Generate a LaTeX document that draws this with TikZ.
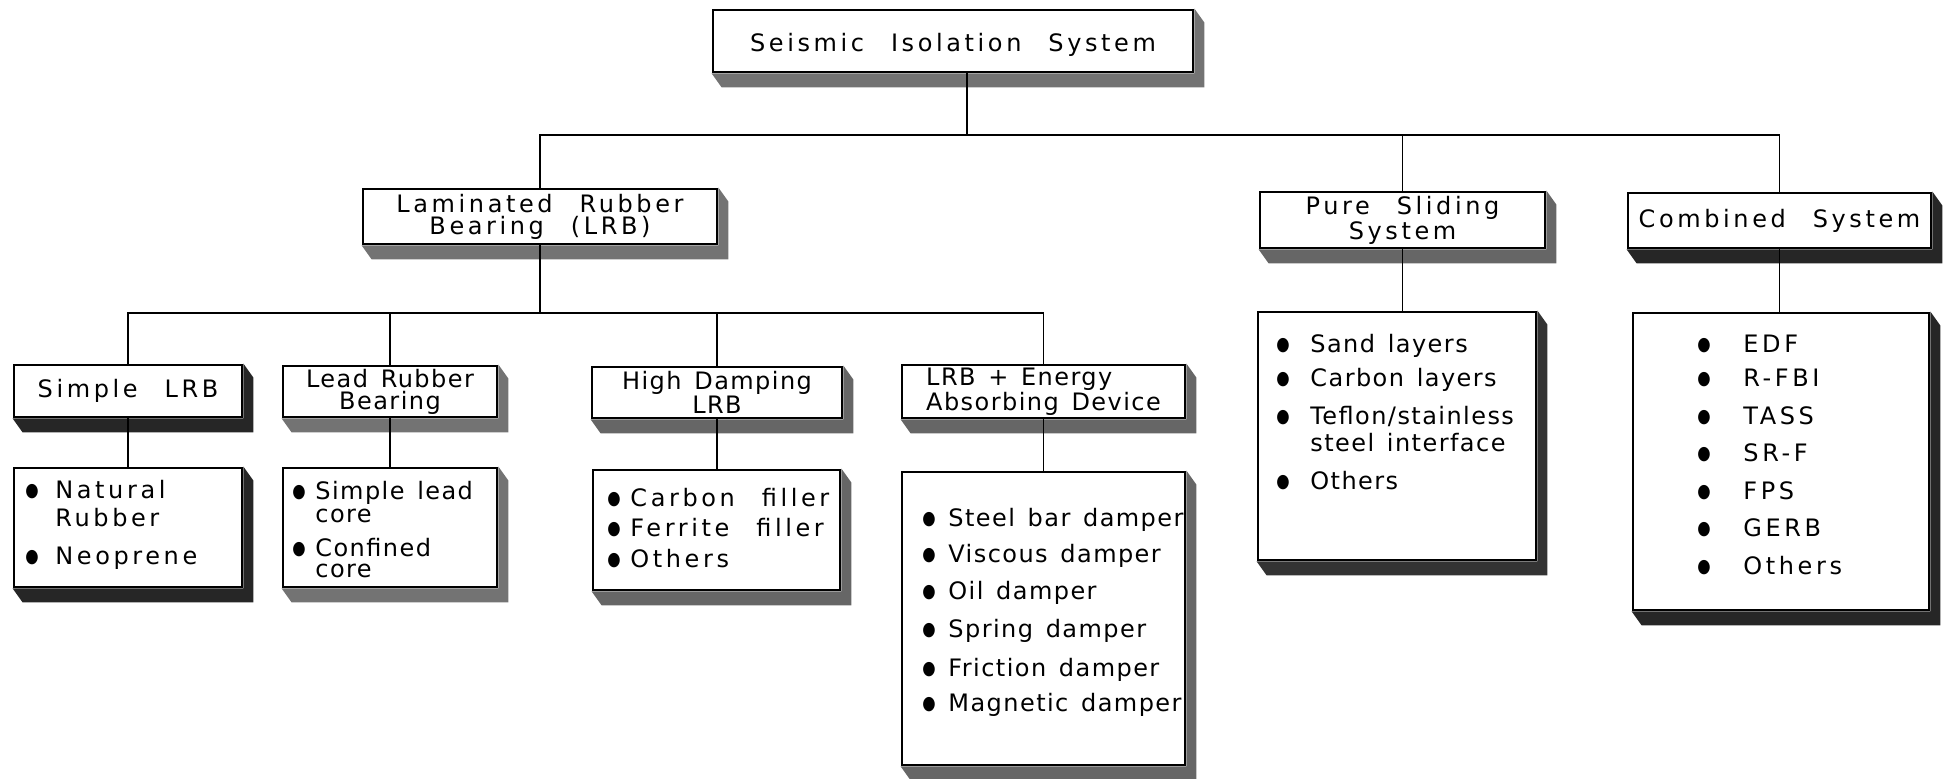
\documentclass[tikz,border=0pt]{standalone}
\usepackage{fontspec}
\usepackage{graphicx}
\setmainfont{DejaVu Sans}[LetterSpace=15, WordSpace=2.4]
\newfontfamily\narrowfont{DejaVu Sans}[LetterSpace=6, WordSpace=1.4]
\pgfdeclarelayer{shadow}
\pgfsetlayers{shadow,main}

\newcommand{\blist}[2]{\begin{tabular}[t]{@{}p{#1}@{}l@{}}#2\end{tabular}}
\newcommand{\dotmark}{\raisebox{1.4pt}{\scalebox{0.85}[1.05]{\fontsize{9}{9}\selectfont ●}}}

\tikzstyle{every node}=[inner sep=0pt, font=\fontsize{12}{11}\selectfont]
\tikzstyle{frame}=[draw=black, line width=1.4pt, fill=white]
\tikzstyle{heading}=[frame, align=center]
\tikzstyle{root}=[frame, text height=21pt, text depth=10pt]
\tikzstyle{tight}=[font=\narrowfont\fontsize{12}{11}\selectfont]
\tikzstyle{items}=[anchor=base west, font=\fontsize{12}{15}\selectfont]
\tikzstyle{tightitems}=[items, font=\narrowfont\fontsize{12}{15}\selectfont]
\tikzstyle{link}=[line width=0.8pt]

\begin{document}
\begin{tikzpicture}[x=0.5pt, y=-0.5pt]
    \useasboundingbox (0,0) rectangle (1944,779);

    \node [root, minimum width=240pt] (root) at (953,41) {Seismic Isolation System};

    \node [heading, minimum width=177pt, minimum height=27.5pt] (lrb) at (540,216.5) {Laminated Rubber\\Bearing (LRB)};
    \node [heading, minimum width=142.5pt, minimum height=28pt] (pss) at (1402.5,220) {Pure Sliding\\System};
    \node [heading, minimum width=151.5pt, minimum height=27.5pt] (comb) at (1779.5,220.5) {Combined System};

    \node [heading, minimum width=114pt, minimum height=26pt] (slrb) at (128,391) {Simple LRB};
    \node [heading, tight, minimum width=107pt, minimum height=25.5pt] (lead) at (390,391.5) {Lead Rubber\\Bearing};
    \node [heading, tight, minimum width=125pt, minimum height=25.5pt] (hdr) at (717,392.5) {High Damping\\LRB};
    \node [frame, tight, align=left, minimum width=141.5pt, minimum height=26.5pt] (ead) at (1043.5,391.5) {LRB + Energy\\Absorbing Device};

    \node [frame, minimum width=114pt, minimum height=59.5pt] (slrbL) at (128,527.5) {};
    \node [frame, minimum width=107pt, minimum height=59.5pt] (leadL) at (390,527.5) {};
    \node [frame, minimum width=123.5pt, minimum height=60pt] (hdrL) at (716.5,530) {};
    \node [frame, minimum width=141.5pt, minimum height=146.5pt] (eadL) at (1043.5,618.5) {};
    \node [frame, minimum width=139pt, minimum height=124pt] (pssL) at (1397,436) {};
    \node [frame, minimum width=148pt, minimum height=148.5pt] (combL) at (1781,461.5) {};

    \node [items] (slrbT) at (25,499) {\blist{15pt}{\dotmark & Natural\\[-1pt] & Rubber\\[4pt] \dotmark & Neoprene}};
    \node [tightitems] (leadT) at (292,500) {\blist{11.5pt}{\dotmark & Simple lead\\[-3.5pt] & core\\[2pt] \dotmark & Confined\\[-4.5pt] & core}};
    \node [items] (hdrT) at (607,507) {\blist{11.5pt}{\dotmark & Carbon filler\\ \dotmark & Ferrite filler\\[0.5pt] \dotmark & Others}};
    \node [tightitems] (eadT) at (922,527) {\blist{13pt}{\dotmark & Steel bar damper\\[3pt] \dotmark & Viscous damper\\[3.5pt] \dotmark & Oil damper\\[4pt] \dotmark & Spring damper\\[4.5pt] \dotmark & Friction damper\\[2.5pt] \dotmark & Magnetic damper}};
    \node [tightitems] (pssT) at (1276,353) {\blist{17pt}{\dotmark & Sand layers\\[2pt] \dotmark & Carbon layers\\[4pt] \dotmark & Teflon/stainless\\[-1.5pt] & steel interface\\[4pt] \dotmark & Others}};
    \node [items] (combT) at (1697,353) {\blist{23pt}{\dotmark & EDF\\[2pt] \dotmark & R-FBI\\[4pt] \dotmark & TASS\\[3.5pt] \dotmark & SR-F\\[4pt] \dotmark & FPS\\[3.5pt] \dotmark & GERB\\[4pt] \dotmark & Others}};

    \begin{pgfonlayer}{shadow}
        \foreach \n/\k in {root/55, lrb/55, pss/60, comb/85, slrb/85, lead/55, hdr/60, ead/60,
                           slrbL/85, leadL/55, hdrL/60, eadL/60, pssL/80, combL/85}
            \fill [black!\k] (\n.south west) -- ++(5pt,-7pt) -| ([xshift=5pt,yshift=-7pt]\n.north east)
                -- (\n.north east) -- (\n.south east) -- cycle;
    \end{pgfonlayer}

    \coordinate (top) at (967,135);
    \coordinate (mid) at (540,313);
    \draw [link] (root.south -| top) -- (top);
    \draw [link] (lrb.north) |- (top) -| (comb.north);
    \draw [link] (top) -| (pss.north);
    \draw [link] (lrb.south) -- (mid);
    \draw [link] (slrb.north) |- (mid) -| (ead.north);
    \draw [link] (lead.north) -- (lead.north |- mid);
    \draw [link] (hdr.north) -- (hdr.north |- mid);
    \foreach \a/\b in {slrb/slrbL, lead/leadL, hdr/hdrL, ead/eadL, pss/pssL, comb/combL}
        \draw [link] (\a.south) -- (\a.south |- \b.north);
\end{tikzpicture}
\end{document}
